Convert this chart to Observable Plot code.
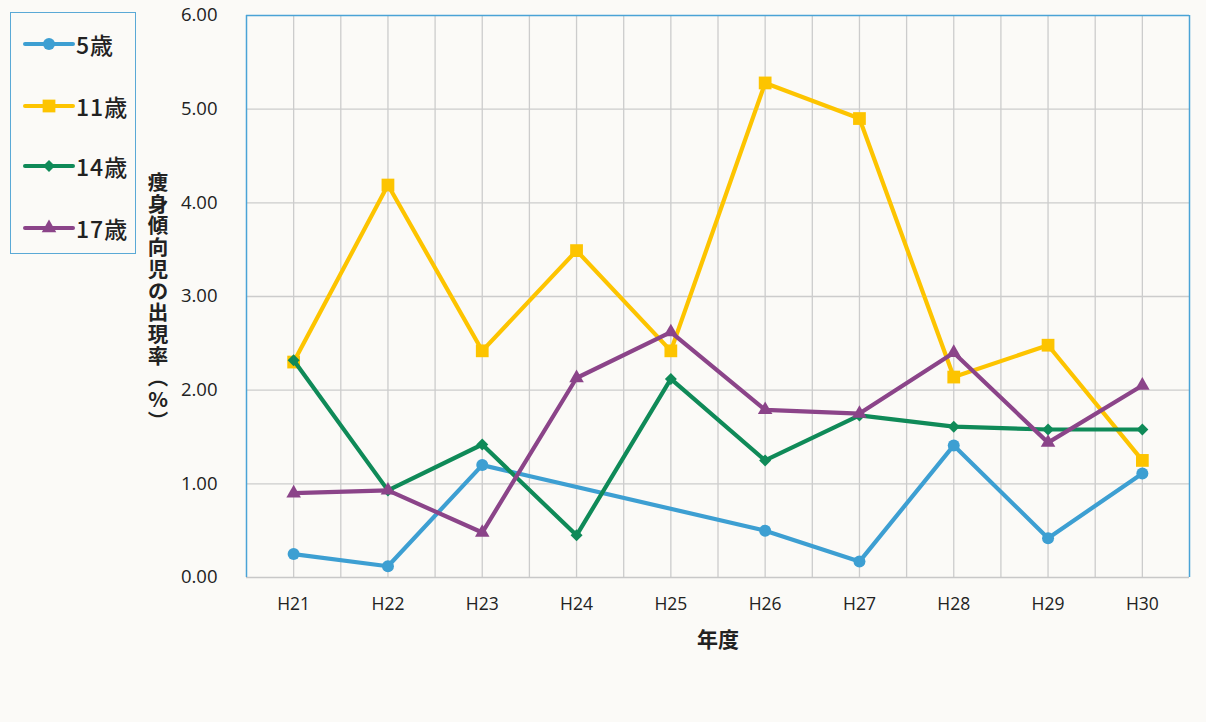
<!DOCTYPE html>
<html><head><meta charset="utf-8">
<script src="https://cdn.jsdelivr.net/npm/d3@7"></script>
<script src="https://cdn.jsdelivr.net/npm/@observablehq/plot@0.6"></script>
<style>
body{margin:0;background:#fbfaf7;}
#wrap{position:relative;width:1206px;height:722px;font-family:"Noto Sans CJK JP","Noto Sans",sans-serif;color:#222;}
#wrap svg.plot{position:absolute;left:0;top:0;}
#wrap svg.plot g[aria-label="y-axis tick label"] text{font-size:18.5px;font-family:"Open Sans",sans-serif;}
#wrap svg.plot g[aria-label="x-axis tick label"] text{font-size:17.5px;font-family:"Open Sans",sans-serif;}
#legend{position:absolute;left:10px;top:12px;width:124px;height:240px;border:1.5px solid #5aa9d6;}
.entry{position:absolute;left:12px;height:30px;display:flex;align-items:center;}
.entry span{font-size:23px;font-weight:500;letter-spacing:1px;margin-left:1px;color:#222;}
#ytitle{position:absolute;left:147px;top:172px;writing-mode:vertical-rl;text-orientation:mixed;font-size:20.5px;font-weight:700;line-height:22px;color:#222;letter-spacing:1.2px;}
#ytitle .up{text-orientation:upright;}
</style></head><body><div id="wrap"></div>
<script>
const years = ["H21","H22","H23","H24","H25","H26","H27","H28","H29","H30"];
const ages = ["5歳","11歳","14歳","17歳"];
const v5  = [0.25,0.12,1.20,null,null,0.50,0.17,1.41,0.42,1.11];
const v11 = [2.30,4.19,2.42,3.49,2.42,5.28,4.90,2.14,2.48,1.25];
const v14 = [2.32,0.93,1.42,0.45,2.12,1.25,1.73,1.61,1.58,1.58];
const v17 = [0.90,0.93,0.48,2.13,2.62,1.79,1.75,2.40,1.44,2.05];
const yTicks = [0,1,2,3,4,5,6];
const yTitle = "痩身傾向児の出現率（%）";
const xTitle = "年度";

const series = [v5, v11, v14, v17];
const colors = ["#3d9fd2","#fdc400","#0f8a58","#8b4489"];
const symbols = ["circle","square","diamond2","triangle"];
const radii = [6, 7.2, 5.4, 5.4];

const seriesData = series.map((vals,k) => vals.map((v,i) => ({age: ages[k], year: years[i], i, v})).filter(d => d.v != null));

const n = years.length;
const marks = [
  Plot.ruleX(d3.range(0, n - 0.75, 0.5), {stroke:"#cccccc", strokeWidth:1.3}),
  Plot.ruleY(yTicks.slice(1, -1), {stroke:"#cccccc", strokeWidth:1.3}),
  Plot.ruleY([yTicks[0]], {stroke:"#c8c8c8", strokeWidth:1.5}),
  Plot.ruleX([-0.5, n - 0.5], {stroke:"#4aa3d6", strokeWidth:1.5}),
  Plot.ruleY([yTicks[yTicks.length-1]], {stroke:"#4aa3d6", strokeWidth:1.5}),
  Plot.axisX(d3.range(n), {tickSize:0, tickPadding:20, tickFormat: i => years[i], label:null, fill:"#222"}),
  Plot.axisY(yTicks, {tickSize:0, tickPadding:29, tickFormat: d => d.toFixed(2), label:null, fill:"#222"}),
  Plot.text([xTitle], {frameAnchor:"bottom", dy:63, lineAnchor:"middle", fontSize:21, fontWeight:"bold", fill:"#222"})
];
seriesData.forEach((d,k) => {
  marks.push(Plot.line(d, {x:"i", y:"v", stroke: colors[k], strokeWidth:4.2, strokeLinejoin:"miter"}));
  marks.push(Plot.dot(d, {x:"i", y:"v", symbol: symbols[k], r: radii[k], fill: colors[k], stroke:"none"}));
});

const chart = Plot.plot({
  width:1206, height:722,
  marginLeft:246, marginRight:17, marginTop:15, marginBottom:145,
  style:{background:"transparent", fontFamily:'"Noto Sans CJK JP","Noto Sans",sans-serif', color:"#222"},
  x:{type:"linear", domain:[-0.5, n - 0.5], axis:null},
  y:{domain:[yTicks[0], yTicks[yTicks.length-1]], axis:null},
  marks
});
chart.classList.add("plot");
const wrap = document.getElementById("wrap");
wrap.appendChild(chart);

// legend
const legend = document.createElement("div");
legend.id = "legend";
const entryTops = [16, 78, 138, 200];
ages.forEach((a,k) => {
  const e = document.createElement("div");
  e.className = "entry";
  e.style.top = entryTops[k] + "px";
  const svg = d3.create("svg").attr("width", 52).attr("height", 30);
  svg.append("line").attr("x1", 2).attr("x2", 50).attr("y1", 15).attr("y2", 15)
    .attr("stroke", colors[k]).attr("stroke-width", 4).attr("stroke-linecap","round");
  const sym = {circle:d3.symbolCircle, square:d3.symbolSquare, diamond2:d3.symbolDiamond2, triangle:d3.symbolTriangle}[symbols[k]];
  svg.append("path").attr("transform","translate(26,15)")
    .attr("d", d3.symbol(sym, Math.PI * radii[k] * radii[k])()).attr("fill", colors[k]);
  e.appendChild(svg.node());
  const s = document.createElement("span");
  s.textContent = a;
  e.appendChild(s);
  legend.appendChild(e);
});
wrap.appendChild(legend);

// y title (vertical)
const yt = document.createElement("div");
yt.id = "ytitle";
const pIdx = yTitle.indexOf("%");
yt.innerHTML = yTitle.slice(0, pIdx) + '<span class="up">%</span>' + yTitle.slice(pIdx + 1);
wrap.appendChild(yt);
</script>
</body></html>
